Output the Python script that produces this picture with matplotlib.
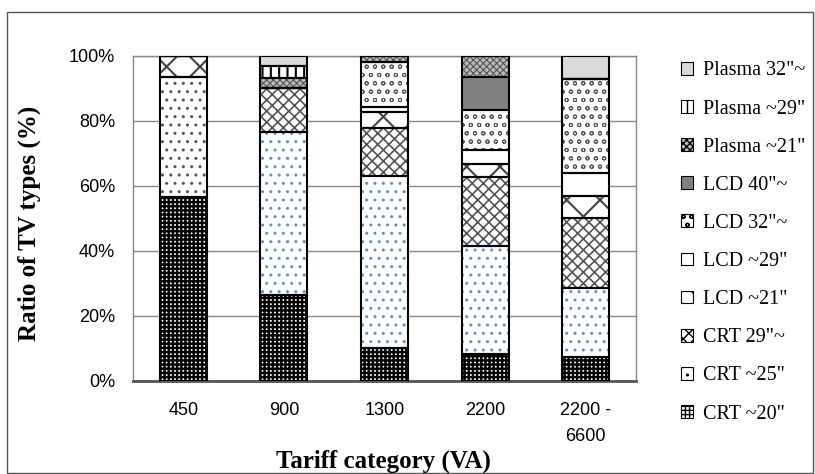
import numpy as np
import matplotlib
matplotlib.use("Agg")
import matplotlib.pyplot as plt
from matplotlib.patches import Patch, Rectangle

# tariff categories and share of each TV type (%)
categories = ["450", "900", "1300", "2200", "2200 -\n6600"]
series_names = ['CRT ~20"', 'CRT ~25"', 'CRT 29"~', 'LCD ~21"', 'LCD ~29"',
                'LCD 32"~', 'LCD 40"~', 'Plasma ~21"', 'Plasma ~29"', 'Plasma 32"~']
crt_20 = [56.5, 26.4, 10.0, 8.1, 7.3]
crt_25 = [37.1, 50.3, 53.0, 33.4, 21.2]
crt_29 = [0.0, 13.3, 14.7, 21.1, 21.7]
lcd_21 = [6.4, 0.0, 4.9, 4.1, 6.7]
lcd_29 = [0.0, 0.0, 1.6, 4.4, 7.2]
lcd_32 = [0.0, 0.0, 13.9, 12.3, 28.7]
lcd_40 = [0.0, 0.0, 0.0, 10.2, 0.0]
plasma_21 = [0.0, 3.1, 1.9, 6.4, 0.0]
plasma_29 = [0.0, 3.9, 0.0, 0.0, 0.0]
plasma_32 = [0.0, 3.0, 0.0, 0.0, 7.2]
values = [crt_20, crt_25, crt_29, lcd_21, lcd_29, lcd_32, lcd_40,
          plasma_21, plasma_29, plasma_32]

# (face, hatch, hatch colour, hatch width) per series
styles = [
    ("white", "++++", "black", 1.7),
    ("white", "..", "#5b8fd6", 1.0),
    ("white", "xxx", "#555555", 1.2),
    ("white", "x", "#444444", 1.5),
    ("white", "", "black", 1.0),
    ("white", "oo", "#555555", 0.7),
    ("#808080", "", "black", 1.0),
    ("#bbbbbb", "xxxxx", "#555555", 0.8),
    ("white", "||", "black", 1.5),
    ("#d9d9d9", "", "black", 1.0),
]

serif = "Liberation Serif"
sans = "Liberation Sans"

fig = plt.figure(figsize=(8.15, 4.74), dpi=100)
ax = fig.add_axes([133 / 815, 1 - 380.7 / 474, 503 / 815, 324.7 / 474])

x = np.arange(len(categories))
width = 0.467
bottom = np.zeros(len(categories))
for i, (name, vals) in enumerate(zip(series_names, values)):
    face, hatch, hcol, hlw = styles[i]
    hcols = [hcol] * len(categories)
    if i == 1:
        hcols[0] = "#555555"  # first bar's dots are grey in the original
    with plt.rc_context({"hatch.linewidth": hlw}):
        ax.bar(x, vals, width, bottom=bottom, color=face, hatch=hatch,
               edgecolor=hcols, linewidth=0, zorder=3)
    ax.bar(x, vals, width, bottom=bottom, fill=False, edgecolor="black",
           linewidth=1.5, zorder=4)
    bottom += np.array(vals)

ax.set_xlim(-0.5, len(categories) - 0.5)
ax.set_ylim(0, 100)
ax.set_yticks(np.arange(0, 101, 20))
ax.set_yticklabels([f"{v}%" for v in range(0, 101, 20)])
ax.set_xticks(x)
ax.set_xticklabels(categories, linespacing=1.75)
ax.tick_params(axis="y", length=0, pad=13, labelsize=13)
ax.tick_params(axis="x", length=0, pad=15, labelsize=13)
for lab in ax.get_xticklabels() + ax.get_yticklabels():
    lab.set_fontfamily(sans)
ax.yaxis.grid(True, color="#888888", linewidth=1, zorder=0)
for side in ["left", "top", "right"]:
    ax.spines[side].set_color("#888888")
    ax.spines[side].set_linewidth(1)
ax.spines["bottom"].set_color("#555555")
ax.spines["bottom"].set_linewidth(2)

fig.text(29 / 815, 1 - 223 / 474, "Ratio of TV types (%)", rotation=90,
         ha="center", va="center", fontsize=18, fontweight="bold", family=serif)
fig.text(383 / 815, 1 - 461 / 474, "Tariff category (VA)", ha="center",
         va="center", fontsize=18, fontweight="bold", family=serif)

handles = [Patch(facecolor=s[0], hatch=s[1], edgecolor="black", linewidth=0.8)
           for s in styles]
fig.legend(handles[::-1], series_names[::-1], loc="center left",
           bbox_to_anchor=(671 / 815, 1 - 242.5 / 474), frameon=False,
           prop={"family": serif, "size": 14.5}, handlelength=0.6,
           handleheight=0.6, handletextpad=0.5, labelspacing=0.95, borderpad=0)

fig.patches.append(Rectangle((7 / 815, 1 / 474), 806 / 815, 461 / 474,
                             transform=fig.transFigure, fill=False,
                             edgecolor="#555555", linewidth=1))

fig.savefig("out.png", dpi=100)
